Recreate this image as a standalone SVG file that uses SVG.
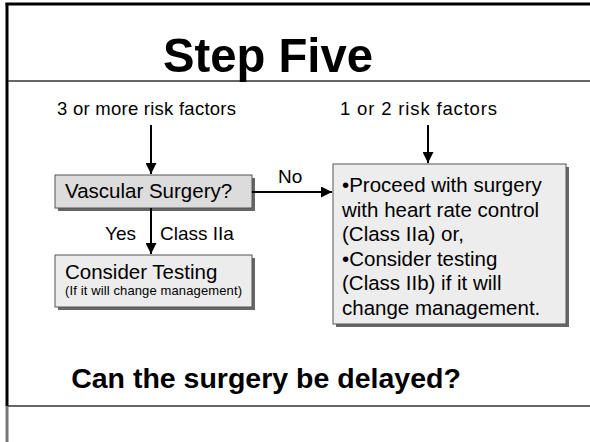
<svg xmlns="http://www.w3.org/2000/svg" width="590" height="442" viewBox="0 0 590 442">
<defs>
<style>
text{font-family:"Liberation Sans",Arial,sans-serif;fill:#000}
.t{font-size:20.5px}
.s{font-size:13px}
.box{stroke:#555;stroke-width:1}
.sh{fill:#666}
.c{stroke:#000;stroke-width:2;fill:none}
</style>
<marker id="ah" viewBox="0 0 10 10" refX="10" refY="5" markerWidth="5.5" markerHeight="5.5" orient="auto" markerUnits="strokeWidth">
<path d="M0,0 L10,5 L0,10 Z" fill="#000"/>
</marker>
</defs>
<rect x="0" y="0" width="590" height="442" fill="#fff"/>
<g id="frame">
<line x1="7" y1="3" x2="7" y2="406" stroke="#000" stroke-width="3"/>
<line x1="7" y1="406" x2="7" y2="442" stroke="#777" stroke-width="3"/>
<line x1="5.5" y1="4" x2="590" y2="4" stroke="#000" stroke-width="3"/>
<line x1="8" y1="81" x2="590" y2="81" stroke="#333" stroke-width="1.5"/>
<line x1="8" y1="406" x2="590" y2="406" stroke="#333" stroke-width="1.5"/>
</g>
<g id="title">
<text x="268" y="72" text-anchor="middle" font-weight="bold" font-size="49" textLength="210" lengthAdjust="spacingAndGlyphs">Step Five</text>
</g>
<g id="label-3">
<text class="t" x="57" y="115" style="font-size:18.5px" textLength="179">3 or more risk factors</text>
</g>
<g id="label-1">
<text class="t" x="340" y="115" style="font-size:18.5px" textLength="157">1 or 2 risk factors</text>
</g>
<g id="vascular">
<rect class="sh" x="58" y="178" width="197" height="33"/>
<rect class="box" x="55" y="175" width="197" height="33" fill="#dcdcdc"/>
<text class="t" x="65" y="198">Vascular Surgery?</text>
</g>
<g id="testing">
<rect class="sh" x="58" y="258" width="197" height="52"/>
<rect class="box" x="55" y="255" width="197" height="52" fill="#ececec"/>
<text class="t" x="65" y="279">Consider Testing</text>
<text class="s" x="65" y="295" textLength="177">(If it will change management)</text>
</g>
<g id="proceed">
<rect class="sh" x="336" y="167" width="233" height="160"/>
<rect class="box" x="333" y="164" width="233" height="160" fill="#ededed"/>
<text class="t" x="342" y="192">•Proceed with surgery</text>
<text class="t" x="342" y="216.5">with heart rate control</text>
<text class="t" x="342" y="241">(Class IIa) or,</text>
<text class="t" x="342" y="265.5">•Consider testing</text>
<text class="t" x="342" y="290">(Class IIb) if it will</text>
<text class="t" x="342" y="314.5">change management.</text>
</g>
<g id="connectors">
<line class="c" x1="151" y1="125" x2="151" y2="174" marker-end="url(#ah)"/>
<line class="c" x1="428" y1="125" x2="428" y2="163" marker-end="url(#ah)"/>
<line class="c" x1="252" y1="192" x2="332" y2="192" marker-end="url(#ah)"/>
<line class="c" x1="151" y1="208" x2="151" y2="254" marker-end="url(#ah)"/>
<text class="t" x="278" y="183" style="font-size:19px">No</text>
<text class="t" x="105" y="240" style="font-size:19px">Yes</text>
<text class="t" x="160" y="240" style="font-size:19px">Class IIa</text>
</g>
<g id="footer">
<text x="266" y="388" text-anchor="middle" font-weight="bold" font-size="28.5">Can the surgery be delayed?</text>
</g>
</svg>
